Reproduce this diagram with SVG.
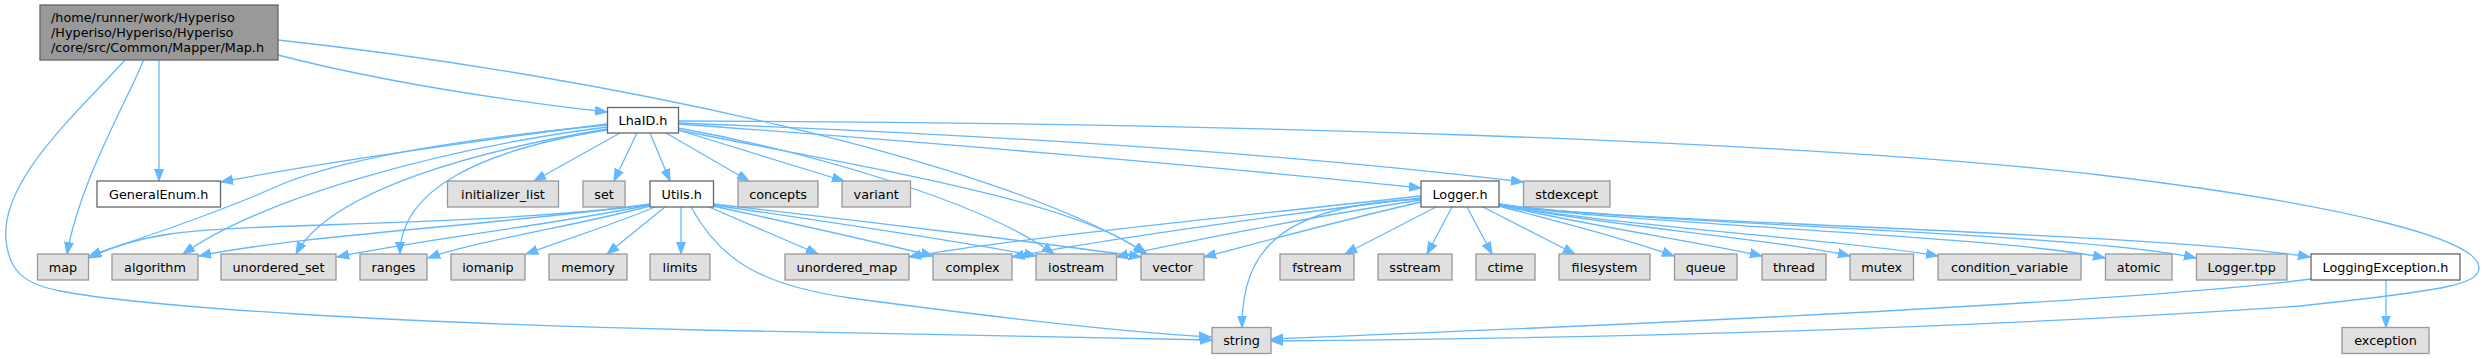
<svg xmlns="http://www.w3.org/2000/svg" width="2484" height="359" viewBox="0 0 2484 359">
<style>
text{font-family:"DejaVu Sans","Liberation Sans",sans-serif;font-size:12.8px;fill:#000}
.c{text-anchor:middle}
.g rect{fill:#e0e0e0;stroke:#999999;stroke-width:1.3}
.w rect{fill:#ffffff;stroke:#666666;stroke-width:1.3}
.m rect{fill:#999999;stroke:#666666;stroke-width:1.3}
#edges path{fill:none;stroke:#63b8ff;stroke-width:1.3;marker-end:url(#ah)}
</style>
<defs>
<marker id="ah" markerUnits="userSpaceOnUse" markerWidth="13" markerHeight="11" refX="12" refY="5" orient="auto">
<path d="M0,0.5 L12,5 L0,9.5 z" fill="#63b8ff" stroke="#63b8ff" stroke-width="1"/>
</marker>
</defs>
<rect width="2484" height="359" fill="#ffffff"/>
<g id="edges">
<path d="M278,55 C390,84 520,102 607,112"/>
<path d="M159,60 L159,181"/>
<path d="M143.7,60 C130,95 80,180 67,254"/>
<path d="M125,60 C80,110 0,180 6,240 C9,272 25,284 60,291 C150,308 400,323 700,330 C950,335 1100,338 1212,340"/>
<path d="M278,40 C600,75 1000,160 1147,254"/>
<path d="M607,124 C480,140 320,163 221,182"/>
<path d="M607,125 C450,140 340,160 280,185 C220,212 150,235 89,256"/>
<path d="M607,127 C430,150 260,200 183,254"/>
<path d="M607,129 C480,150 330,190 296,254"/>
<path d="M607,130 C480,150 400,190 400,254"/>
<path d="M620,133 L534,181"/>
<path d="M637,133 L614,181"/>
<path d="M650,133 L670,181"/>
<path d="M666,133 L749,181"/>
<path d="M678,130 L844,181"/>
<path d="M678,128 C800,150 980,200 1054,254"/>
<path d="M678,130 C850,165 1080,200 1145,254"/>
<path d="M678,124 C900,140 1200,165 1421,188"/>
<path d="M678,123 C1000,135 1300,155 1523,182"/>
<path d="M678,121 C1200,122 1800,140 2100,175 C2350,205 2480,240 2479,268 C2478,284 2450,290 2300,306 C1950,330 1600,338 1271,341"/>
<path d="M650,205 C450,228 250,222 170,234 C130,240 105,250 89,258"/>
<path d="M650,204 C500,225 300,235 199,256"/>
<path d="M650,205 C550,225 420,240 337,257"/>
<path d="M650,206 C580,225 480,240 428,258"/>
<path d="M655,207 C620,222 570,238 526,254"/>
<path d="M665,207 L607,254"/>
<path d="M681,207 L681,254"/>
<path d="M691,207 C720,260 760,285 850,298 C1000,318 1120,332 1211,337"/>
<path d="M709,207 L818,254"/>
<path d="M713,206 C800,225 880,243 933,256"/>
<path d="M713,205 C850,225 980,245 1036,256"/>
<path d="M713,204 C900,225 1080,248 1141,257"/>
<path d="M1421,196 C1250,215 1000,240 909,257"/>
<path d="M1421,198 C1300,212 1100,240 1012,257"/>
<path d="M1421,200 C1320,215 1180,243 1116,257"/>
<path d="M1421,202 C1350,218 1250,245 1204,257"/>
<path d="M1421,199 C1280,205 1242,250 1242,327.5"/>
<path d="M1436,207 L1345,254"/>
<path d="M1452,207 L1427,254"/>
<path d="M1467,207 L1492,254"/>
<path d="M1483,207 L1575,254"/>
<path d="M1499,206 C1570,225 1630,240 1674,256"/>
<path d="M1499,205 C1600,228 1700,242 1762,256"/>
<path d="M1499,205 C1600,225 1780,240 1850,256"/>
<path d="M1499,204 C1600,225 1850,240 1938,256"/>
<path d="M1499,204 C1600,223 2000,235 2105,258"/>
<path d="M1499,204 C1600,222 2080,232 2196,258"/>
<path d="M1499,204 C1600,222 2150,232 2310,257"/>
<path d="M2311,279 C2150,300 1700,322 1271,339"/>
<path d="M2386,280 L2386,327.5"/>
</g>
<g id="node_map_h" class="m"><rect x="40" y="5" width="238" height="55"/>
<text x="51" y="21.5">/home/runner/work/Hyperiso</text>
<text x="51" y="36.5">/Hyperiso/Hyperiso/Hyperiso</text>
<text x="51" y="51.5">/core/src/Common/Mapper/Map.h</text></g>
<g id="node_lhaid" class="w"><rect x="607.5" y="107.5" width="71" height="25.5"/><text class="c" x="643" y="124.8">LhaID.h</text></g>
<g id="node_generalenum" class="w"><rect x="97" y="181" width="123.5" height="26"/><text class="c" x="158.7" y="198.5">GeneralEnum.h</text></g>
<g id="node_initializer_list" class="g"><rect x="447.5" y="181" width="111" height="26"/><text class="c" x="503" y="198.5">initializer_list</text></g>
<g id="node_set" class="g"><rect x="583" y="181" width="42" height="26"/><text class="c" x="604" y="198.5">set</text></g>
<g id="node_utils" class="w"><rect x="650" y="181" width="63.5" height="26"/><text class="c" x="681.7" y="198.5">Utils.h</text></g>
<g id="node_concepts" class="g"><rect x="738" y="181" width="80" height="26"/><text class="c" x="778" y="198.5">concepts</text></g>
<g id="node_variant" class="g"><rect x="842" y="181" width="68.5" height="26"/><text class="c" x="876.2" y="198.5">variant</text></g>
<g id="node_logger" class="w"><rect x="1421" y="181" width="78" height="26"/><text class="c" x="1460" y="198.5">Logger.h</text></g>
<g id="node_stdexcept" class="g"><rect x="1523.5" y="181" width="86.5" height="26"/><text class="c" x="1566.7" y="198.5">stdexcept</text></g>
<g id="node_map" class="g"><rect x="37.5" y="254" width="51" height="26"/><text class="c" x="63" y="271.5">map</text></g>
<g id="node_algorithm" class="g"><rect x="112" y="254" width="86" height="26"/><text class="c" x="155" y="271.5">algorithm</text></g>
<g id="node_unordered_set" class="g"><rect x="221" y="254" width="115" height="26"/><text class="c" x="278.5" y="271.5">unordered_set</text></g>
<g id="node_ranges" class="g"><rect x="360" y="254" width="67" height="26"/><text class="c" x="393.5" y="271.5">ranges</text></g>
<g id="node_iomanip" class="g"><rect x="451" y="254" width="74" height="26"/><text class="c" x="488" y="271.5">iomanip</text></g>
<g id="node_memory" class="g"><rect x="549" y="254" width="78" height="26"/><text class="c" x="588" y="271.5">memory</text></g>
<g id="node_limits" class="g"><rect x="650" y="254" width="60" height="26"/><text class="c" x="680" y="271.5">limits</text></g>
<g id="node_unordered_map" class="g"><rect x="785" y="254" width="124" height="26"/><text class="c" x="847" y="271.5">unordered_map</text></g>
<g id="node_complex" class="g"><rect x="933" y="254" width="79" height="26"/><text class="c" x="972.5" y="271.5">complex</text></g>
<g id="node_iostream" class="g"><rect x="1036" y="254" width="80.5" height="26"/><text class="c" x="1076.2" y="271.5">iostream</text></g>
<g id="node_vector" class="g"><rect x="1141" y="254" width="63" height="26"/><text class="c" x="1172.5" y="271.5">vector</text></g>
<g id="node_fstream" class="g"><rect x="1280" y="254" width="74" height="26"/><text class="c" x="1317" y="271.5">fstream</text></g>
<g id="node_sstream" class="g"><rect x="1378" y="254" width="74" height="26"/><text class="c" x="1415" y="271.5">sstream</text></g>
<g id="node_ctime" class="g"><rect x="1476" y="254" width="59" height="26"/><text class="c" x="1505.5" y="271.5">ctime</text></g>
<g id="node_filesystem" class="g"><rect x="1559" y="254" width="91" height="26"/><text class="c" x="1604.5" y="271.5">filesystem</text></g>
<g id="node_queue" class="g"><rect x="1674.5" y="254" width="62.5" height="26"/><text class="c" x="1705.7" y="271.5">queue</text></g>
<g id="node_thread" class="g"><rect x="1762" y="254" width="64" height="26"/><text class="c" x="1794" y="271.5">thread</text></g>
<g id="node_mutex" class="g"><rect x="1850" y="254" width="63.5" height="26"/><text class="c" x="1881.7" y="271.5">mutex</text></g>
<g id="node_condition_variable" class="g"><rect x="1938" y="254" width="143" height="26"/><text class="c" x="2009.5" y="271.5">condition_variable</text></g>
<g id="node_atomic" class="g"><rect x="2105.5" y="254" width="66.5" height="26"/><text class="c" x="2138.7" y="271.5">atomic</text></g>
<g id="node_logger_tpp" class="g"><rect x="2196.5" y="254" width="90.5" height="26"/><text class="c" x="2241.7" y="271.5">Logger.tpp</text></g>
<g id="node_loggingexception" class="w"><rect x="2311" y="254" width="149" height="26"/><text class="c" x="2385.5" y="271.5">LoggingException.h</text></g>
<g id="node_string" class="g"><rect x="1212" y="327.5" width="59" height="26"/><text class="c" x="1241.5" y="345">string</text></g>
<g id="node_exception" class="g"><rect x="2342" y="327.5" width="87" height="26"/><text class="c" x="2385.5" y="345">exception</text></g>
</svg>
